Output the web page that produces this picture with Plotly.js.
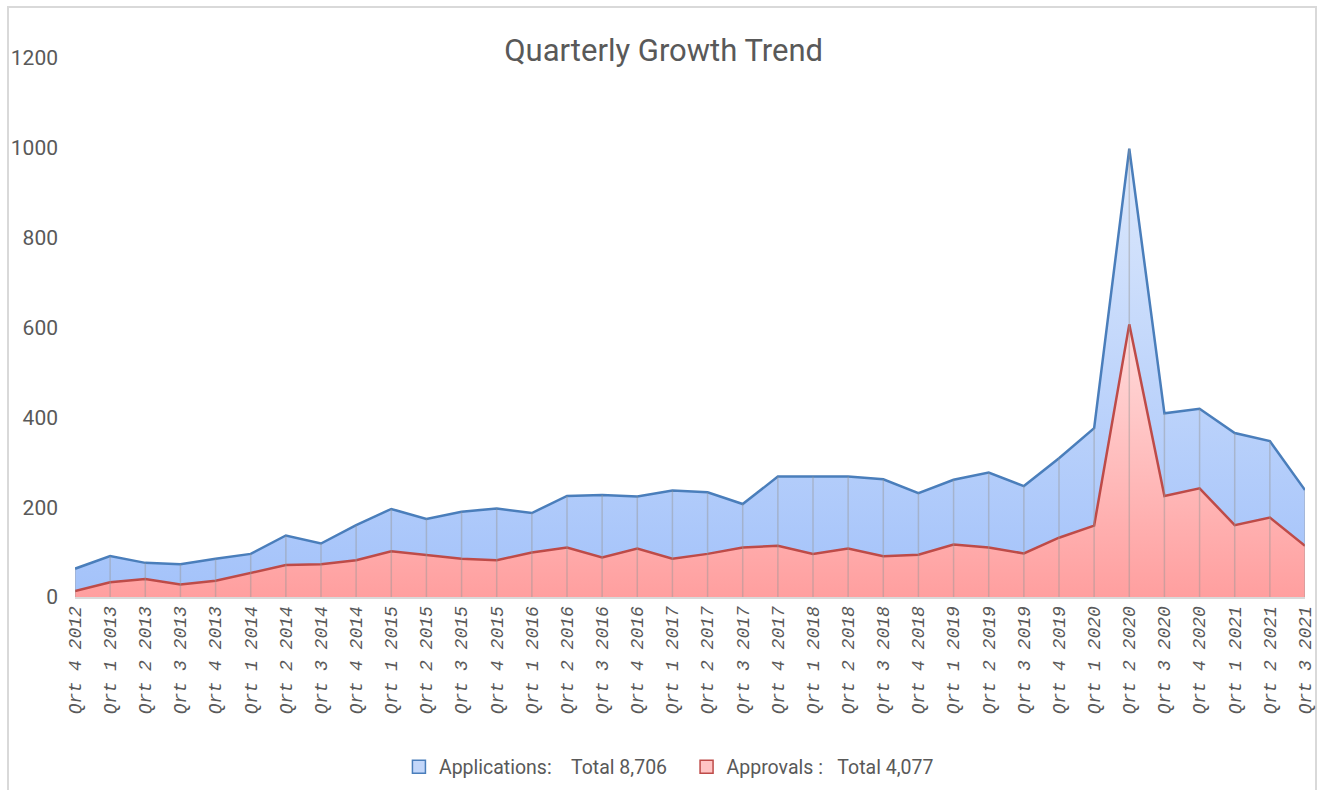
<!DOCTYPE html>
<html>
<head>
<meta charset="utf-8">
<script src="https://cdn.plot.ly/plotly-3.0.1.min.js"></script>
<style>
  html, body { margin: 0; padding: 0; background: #ffffff; }
  #chart { width: 1322px; height: 790px; }
</style>
</head>
<body>
<div id="chart"></div>
<script>
const quarters = [
  "Qrt 4 2012",
  "Qrt 1 2013", "Qrt 2 2013", "Qrt 3 2013", "Qrt 4 2013",
  "Qrt 1 2014", "Qrt 2 2014", "Qrt 3 2014", "Qrt 4 2014",
  "Qrt 1 2015", "Qrt 2 2015", "Qrt 3 2015", "Qrt 4 2015",
  "Qrt 1 2016", "Qrt 2 2016", "Qrt 3 2016", "Qrt 4 2016",
  "Qrt 1 2017", "Qrt 2 2017", "Qrt 3 2017", "Qrt 4 2017",
  "Qrt 1 2018", "Qrt 2 2018", "Qrt 3 2018", "Qrt 4 2018",
  "Qrt 1 2019", "Qrt 2 2019", "Qrt 3 2019", "Qrt 4 2019",
  "Qrt 1 2020", "Qrt 2 2020", "Qrt 3 2020", "Qrt 4 2020",
  "Qrt 1 2021", "Qrt 2 2021", "Qrt 3 2021"
];

const applications = [
  63,
  91, 76, 73, 85,
  96, 137, 119, 160,
  196, 174, 190, 197,
  187, 225, 227, 224,
  237, 233, 207, 268,
  268, 268, 262, 231,
  261, 277, 247, 309,
  376, 998, 409, 419,
  365, 347, 238
];

const approvals = [
  13,
  33, 40, 28, 36,
  54, 71, 73, 82,
  102, 93, 85, 82,
  99, 110, 88, 108,
  85, 96, 110, 114,
  96, 108, 91, 94,
  117, 110, 97, 132,
  159, 607, 225, 242,
  160, 177, 114
];

const yTicks = [0, 200, 400, 600, 800, 1000, 1200];

const appLegend = "Applications:\u00a0\u00a0\u00a0\u00a0Total 8,706\u00a0\u00a0\u00a0";
const aprLegend = "Approvals\u00a0:\u00a0\u00a0\u00a0Total 4,077";

// drop lines built from the data
const dropX = [], dropY = [];
quarters.forEach((q, i) => {
  dropX.push(q, q, null);
  dropY.push(0, applications[i], null);
});

const textFont = "Roboto, Liberation Sans, sans-serif";
const grey = "#595959";

const traces = [
  {
    type: "scatter", mode: "lines", name: appLegend,
    x: quarters, y: applications,
    fill: "tozeroy",
    fillcolor: "#b4cffb",
    fillgradient: {
      type: "vertical", start: 0, stop: 1000,
      colorscale: [[0, "#a3c2fa"], [1, "#dde9fc"]]
    },
    line: { color: "#4a7ebb", width: 2.5 },
    showlegend: false, hoverinfo: "x+y"
  },
  {
    type: "scatter", mode: "lines", name: aprLegend,
    x: quarters, y: approvals,
    fill: "tozeroy",
    fillcolor: "#ffb0b0",
    fillgradient: {
      type: "vertical", start: 0, stop: 610,
      colorscale: [[0, "#ff9f9f"], [1, "#ffdcdc"]]
    },
    line: { color: "#be4b48", width: 2.5 },
    showlegend: false, hoverinfo: "x+y"
  },
  {
    type: "scatter", mode: "lines",
    x: dropX, y: dropY,
    line: { color: "rgba(150,150,150,0.45)", width: 1.5 },
    showlegend: false, hoverinfo: "skip"
  },
  {
    type: "scatter", mode: "markers", name: appLegend,
    x: [null], y: [null],
    marker: { symbol: "square", size: 13, color: "#c3d7fa", line: { color: "#4a7ebb", width: 1.5 } },
    showlegend: true, hoverinfo: "skip"
  },
  {
    type: "scatter", mode: "markers", name: aprLegend,
    x: [null], y: [null],
    marker: { symbol: "square", size: 13, color: "#ffc4c4", line: { color: "#be4b48", width: 1.5 } },
    showlegend: true, hoverinfo: "skip"
  }
];

const layout = {
  width: 1322, height: 790,
  paper_bgcolor: "#ffffff", plot_bgcolor: "#ffffff",
  margin: { l: 75, r: 17, t: 58, b: 193 },
  title: {
    text: "Quarterly Growth Trend",
    x: 0.502, xref: "container", xanchor: "center",
    y: 0.936, yref: "container", yanchor: "middle",
    font: { family: textFont, size: 31, color: grey }
  },
  xaxis: {
    type: "category",
    range: [0, quarters.length - 1],
    showgrid: false, zeroline: false,
    showline: true, linecolor: "#d9d9d9", linewidth: 2,
    ticks: "", tickangle: -90,
    tickfont: { family: "Liberation Mono, DejaVu Sans Mono, monospace", size: 18, color: grey, style: "italic" },
    fixedrange: true
  },
  yaxis: {
    range: [0, 1200],
    tickvals: yTicks,
    ticktext: yTicks.map(String),
    showgrid: false, zeroline: false, showline: false,
    ticks: "", ticklabelstandoff: 16,
    tickfont: { family: textFont, size: 21, color: grey },
    fixedrange: true
  },
  legend: {
    orientation: "h",
    x: 0.506, xanchor: "center", xref: "container",
    y: 0.029, yanchor: "middle", yref: "container",
    font: { family: textFont, size: 19.5, color: grey },
    itemwidth: 30,
    traceorder: "normal"
  },
  shapes: [
    {
      type: "rect", xref: "paper", yref: "paper", layer: "below",
      x0: (8 - 75) / 1230, x1: (1316 - 75) / 1230,
      y0: (597 - 800) / 539, y1: (597 - 7) / 539,
      line: { color: "#d9d9d9", width: 2 }, fillcolor: "rgba(0,0,0,0)"
    }
  ],
  showlegend: true
};

Plotly.newPlot("chart", traces, layout, { displayModeBar: false, staticPlot: true });
</script>
</body>
</html>
